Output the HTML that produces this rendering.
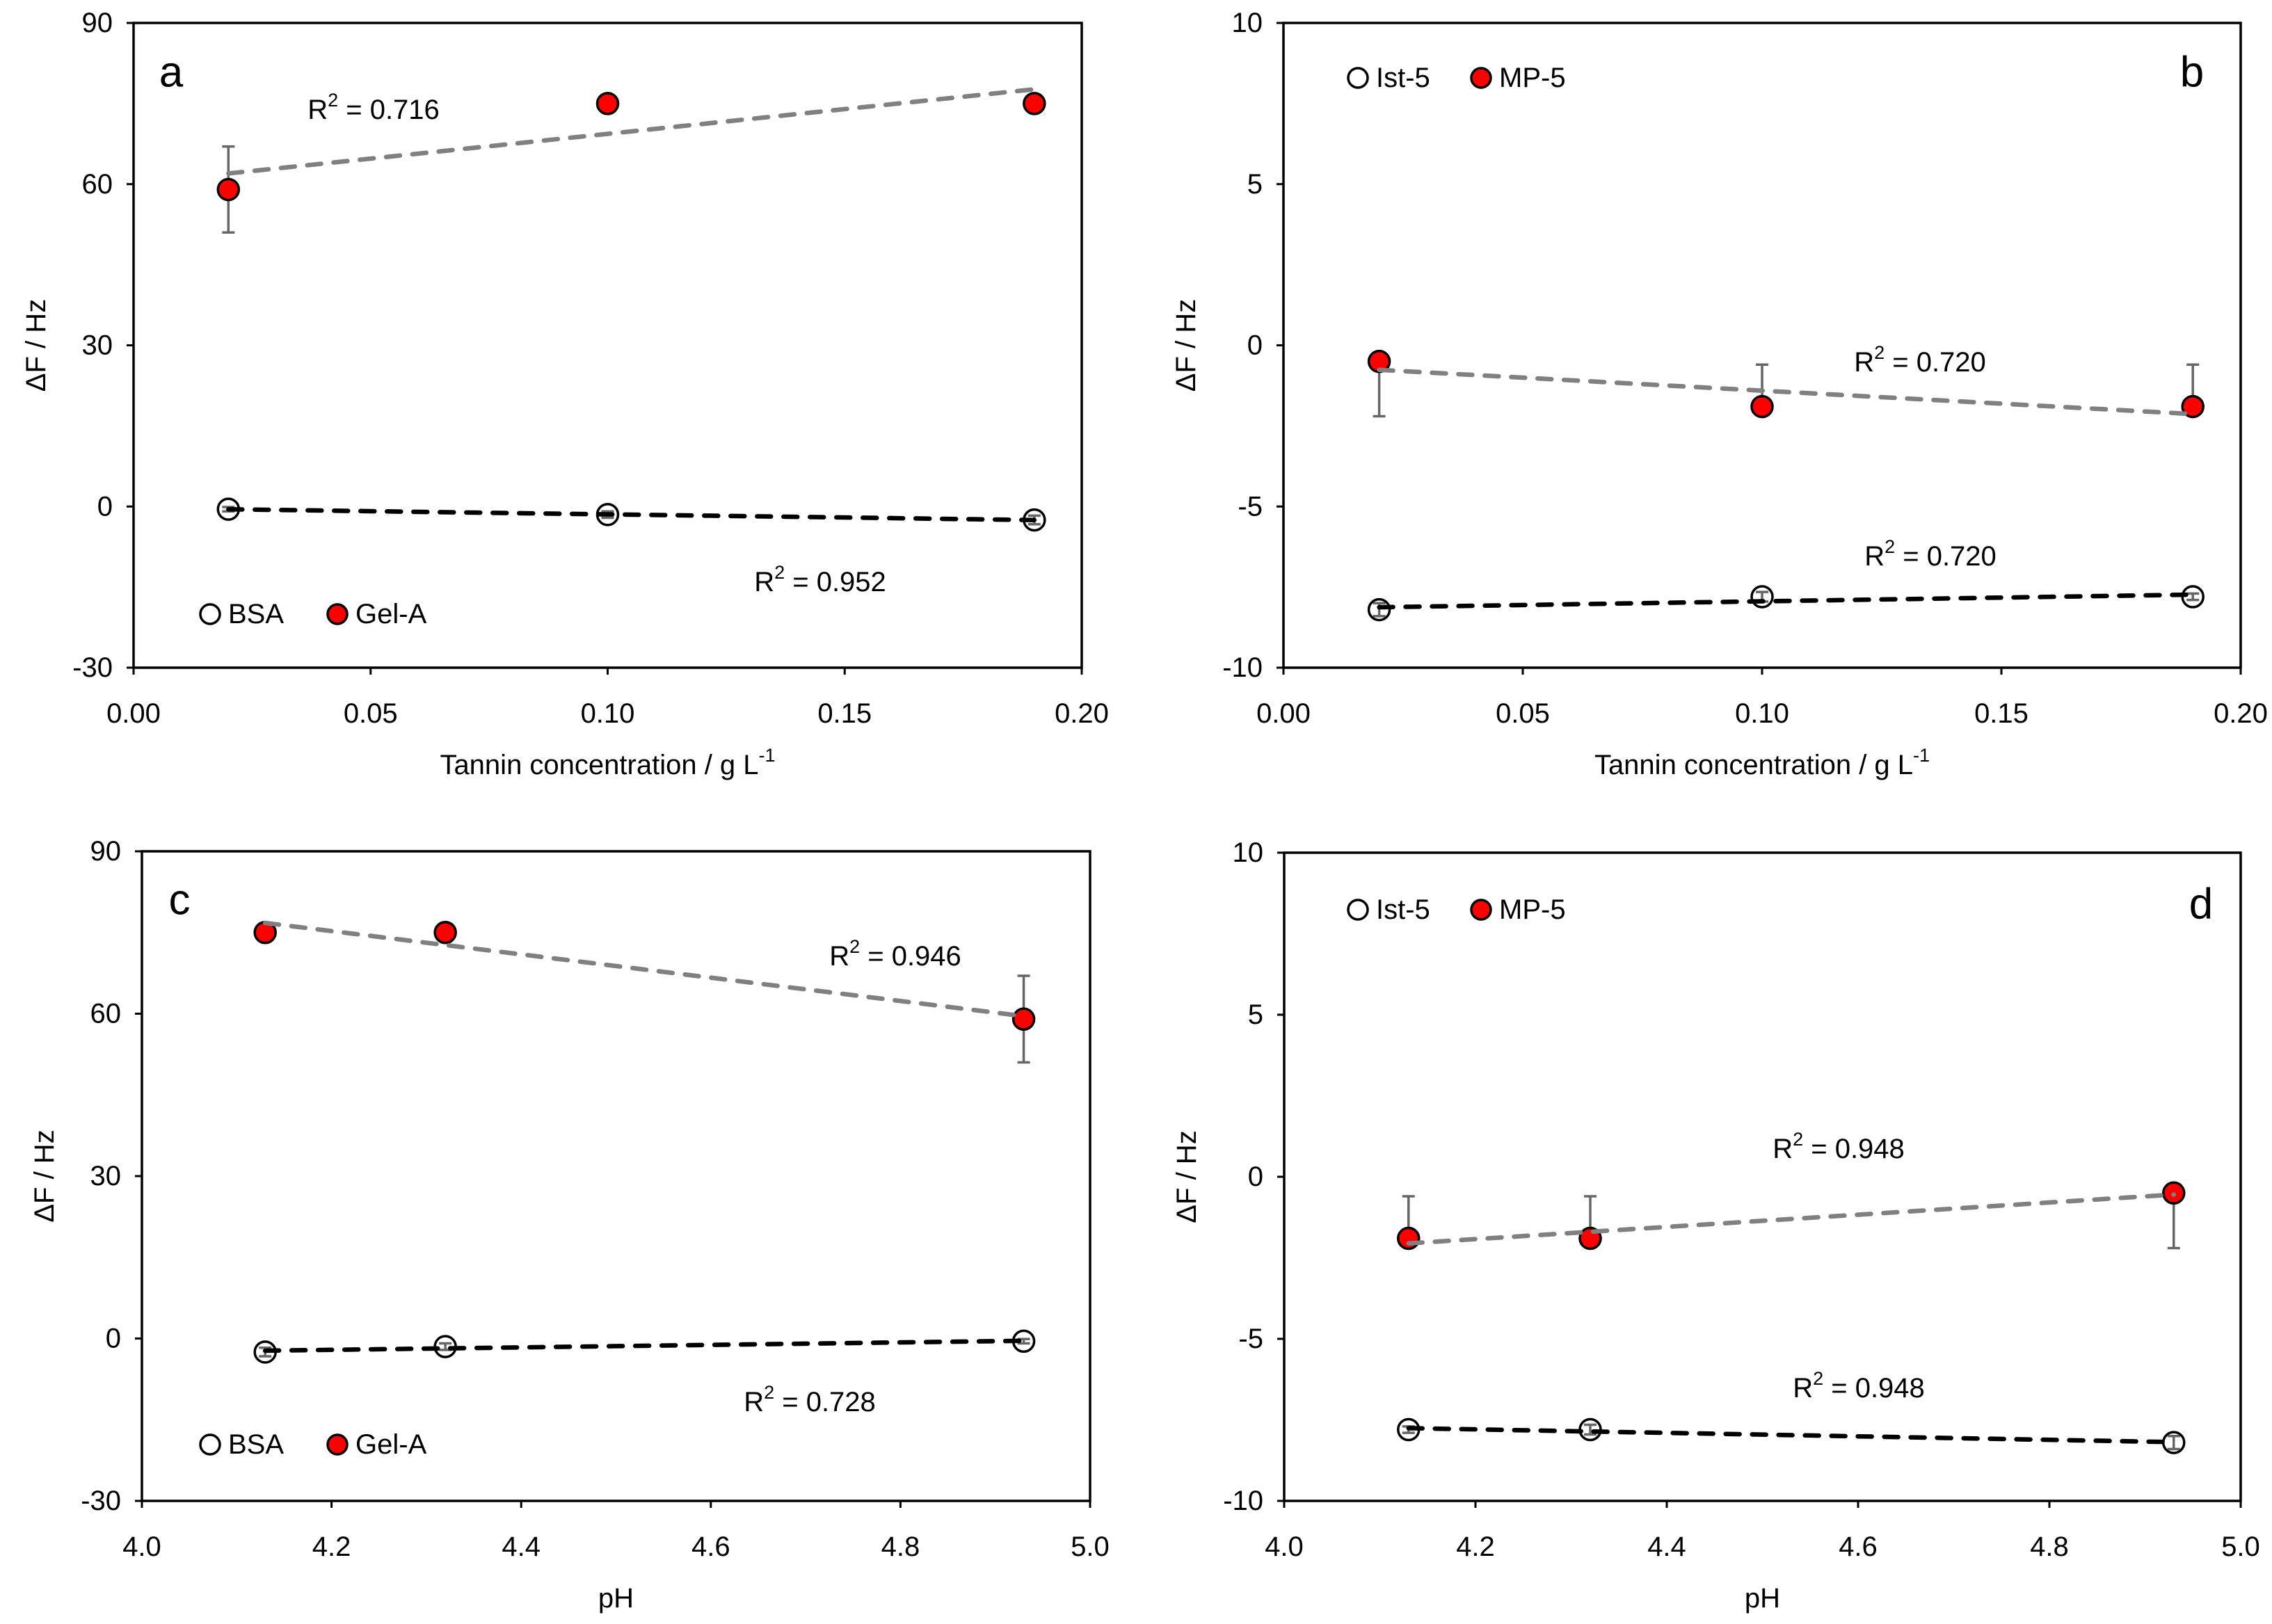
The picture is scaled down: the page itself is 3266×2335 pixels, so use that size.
<!DOCTYPE html>
<html><head><meta charset="utf-8"><style>
html,body{margin:0;padding:0;background:#fff}
svg{display:block}
text{font-family:"Liberation Sans",sans-serif;fill:#000}
</style></head><body>
<svg id="fig" width="3266" height="2335" viewBox="0 0 3266 2335" xmlns="http://www.w3.org/2000/svg"></svg>
<script>
// Panel data
const concX = [0.02, 0.10, 0.19];
const phX = [4.13, 4.32, 4.93];
const aGel = [59, 75, 75];
const aGelLo = [8, 0, 0];
const aGelHi = [8, 0, 0];
const aBsa = [-0.5, -1.5, -2.5];
const aBsaErr = [0.4, 0.6, 0.8];
const bMp = [-0.5, -1.9, -1.9];
const bMpLo = [1.7, 0, 0];
const bMpHi = [0, 1.3, 1.3];
const bIst = [-8.2, -7.8, -7.8];
const bIstErr = [0.2, 0.15, 0.1];
const cGel = [75, 75, 59];
const cGelLo = [0, 0, 8];
const cGelHi = [0, 0, 8];
const cBsa = [-2.5, -1.5, -0.5];
const cBsaErr = [0.8, 0.6, 0.4];
const dMp = [-1.9, -1.9, -0.5];
const dMpLo = [0, 0, 1.7];
const dMpHi = [1.3, 1.3, 0];
const dIst = [-7.8, -7.8, -8.2];
const dIstErr = [0.1, 0.15, 0.2];
const concTicks = ["0.00","0.05","0.10","0.15","0.20"];
const phTicks = ["4.0","4.2","4.4","4.6","4.8","5.0"];
const yTicksBig = ["90","60","30","0","-30"];
const yTicksSmall = ["10","5","0","-5","-10"];

const NS="http://www.w3.org/2000/svg";
const svg=document.getElementById('fig');
function mk(tag,attrs,parent){const e=document.createElementNS(NS,tag);for(const k in attrs)e.setAttribute(k,attrs[k]);(parent||svg).appendChild(e);return e;}
function txt(s,x,y,size,anchor,parent,extra){const t=mk('text',Object.assign({x:x,y:y,'font-size':size,'text-anchor':anchor||'middle','dominant-baseline':'central'},extra||{}),parent);t.textContent=s;return t;}
function fit(xs,ys){const n=xs.length;let mx=0,my=0;for(let i=0;i<n;i++){mx+=xs[i];my+=ys[i];}mx/=n;my/=n;let sxy=0,sxx=0;for(let i=0;i<n;i++){sxy+=(xs[i]-mx)*(ys[i]-my);sxx+=(xs[i]-mx)**2;}const b=sxy/sxx;return [my-b*mx,b];}

function panel(o){
  const g=mk('g',{});
  
  
  const X=v=>o.x0+(v-o.xmin)/(o.xmax-o.xmin)*(o.x1-o.x0);
  const Y=v=>o.y1-(v-o.ymin)/(o.ymax-o.ymin)*(o.y1-o.y0);
  const box=mk('rect',{x:o.x0,y:o.y0,width:o.x1-o.x0,height:o.y1-o.y0,fill:'none',stroke:'#000','stroke-width':3.5},g);
  
  
  const nY=o.yt.length;
  o.yt.forEach((s,i)=>{const v=o.ymax-i*(o.ymax-o.ymin)/(nY-1);const yy=Y(v);
    mk('line',{x1:o.x0-10,x2:o.x0,y1:yy,y2:yy,stroke:'#000','stroke-width':3},g);
    const t=txt(s,o.x0-30,yy,40,'end',g);
    
    });
  const nX=o.xt.length;
  o.xt.forEach((s,i)=>{const v=o.xmin+i*(o.xmax-o.xmin)/(nX-1);const xx=X(v);
    mk('line',{x1:xx,x2:xx,y1:o.y1,y2:o.y1+10,stroke:'#000','stroke-width':3},g);
    const t=txt(s,xx,o.y1+66,40,'middle',g);
    
    });
  const yt=txt('ΔF / Hz',0,0,40,'middle',g,{transform:`translate(${o.x0-140},${(o.y0+o.y1)/2}) rotate(-90)`});
  
  
  let xt;
  if(o.conc){xt=mk('text',{x:(o.x0+o.x1)/2,y:o.y1+140,'font-size':40,'text-anchor':'middle','dominant-baseline':'central'},g);
    xt.innerHTML='Tannin concentration / g L<tspan dy="-14" font-size="27">-1</tspan>';}
  else{xt=txt('pH',(o.x0+o.x1)/2,o.y1+140,40,'middle',g);}
  
  
  const pl=txt(o.id,o.lab[0],o.lab[1],62,'middle',g);
  
  
  function ebars(vals,lo,hi){vals.forEach((v,i)=>{const xx=X(o.xs[i]);
    if(lo[i]>0){mk('line',{x1:xx,x2:xx,y1:Y(v),y2:Y(v-lo[i]),stroke:'#666','stroke-width':3.5},g);mk('line',{x1:xx-9,x2:xx+9,y1:Y(v-lo[i]),y2:Y(v-lo[i]),stroke:'#666','stroke-width':3.5},g);}
    if(hi[i]>0){mk('line',{x1:xx,x2:xx,y1:Y(v),y2:Y(v+hi[i]),stroke:'#666','stroke-width':3.5},g);mk('line',{x1:xx-9,x2:xx+9,y1:Y(v+hi[i]),y2:Y(v+hi[i]),stroke:'#666','stroke-width':3.5},g);}
  });}
  ebars(o.top,o.topLo,o.topHi);
  ebars(o.bot,o.botErr,o.botErr);
  o.top.forEach((v,i)=>{const c=mk('circle',{cx:X(o.xs[i]),cy:Y(v),r:15,fill:'#ff0000',stroke:'#000','stroke-width':3.5},g);
    
    });
  o.bot.forEach((v,i)=>{const c=mk('circle',{cx:X(o.xs[i]),cy:Y(v),r:15,fill:'none',stroke:'#000','stroke-width':3.5},g);
    
    });
  function trend(vals,col,name){const [a,b]=fit(o.xs,vals);const xa=o.xs[0],xb=o.xs[o.xs.length-1];
    const l=mk('line',{x1:X(xa),y1:Y(a+b*xa),x2:X(xb),y2:Y(a+b*xb),stroke:col,'stroke-width':6.5,'stroke-dasharray':'20 18','stroke-linecap':'round'},g);
    
    }
  trend(o.top,'#808080','trendline-'+o.topName);
  trend(o.bot,'#000','trendline-'+o.botName);
  o.r2.forEach(r=>{const t=mk('text',{x:r[1],y:r[2],'font-size':40,'text-anchor':'middle','dominant-baseline':'central'},g);
    t.innerHTML='R<tspan dy="-14" font-size="27">2</tspan><tspan dy="14"> = '+r[0]+'</tspan>';
    
    });
  const L=o.leg;
  const c1=mk('circle',{cx:L[0],cy:L[1],r:14,fill:'none',stroke:'#000','stroke-width':3.5},g);
  
  
  const t1=txt(o.botName,L[0]+26,L[1],40,'start',g);
  
  
  const c2=mk('circle',{cx:L[2],cy:L[1],r:14,fill:'#ff0000',stroke:'#000','stroke-width':3.5},g);
  
  
  const t2=txt(o.topName,L[2]+26,L[1],40,'start',g);
  
  
}

panel({id:'a',x0:192,x1:1555,y0:33,y1:960,xmin:0,xmax:0.2,ymin:-30,ymax:90,xt:concTicks,yt:yTicksBig,conc:true,xs:concX,
  top:aGel,topLo:aGelLo,topHi:aGelHi,bot:aBsa,botErr:aBsaErr,topName:'Gel-A',botName:'BSA',
  lab:[246,104],r2:[['0.716',537,158],['0.952',1179,837]],leg:[302,883,485]});
panel({id:'b',x0:1845,x1:3221,y0:33,y1:960,xmin:0,xmax:0.2,ymin:-10,ymax:10,xt:concTicks,yt:yTicksSmall,conc:true,xs:concX,
  top:bMp,topLo:bMpLo,topHi:bMpHi,bot:bIst,botErr:bIstErr,topName:'MP-5',botName:'Ist-5',
  lab:[3151,104],r2:[['0.720',2760,521],['0.720',2775,800]],leg:[1952,112,2129]});
panel({id:'c',x0:204,x1:1567,y0:1224,y1:2158,xmin:4.0,xmax:5.0,ymin:-30,ymax:90,xt:phTicks,yt:yTicksBig,conc:false,xs:phX,
  top:cGel,topLo:cGelLo,topHi:cGelHi,bot:cBsa,botErr:cBsaErr,topName:'Gel-A',botName:'BSA',
  lab:[258,1294],r2:[['0.946',1287,1375],['0.728',1164,2016]],leg:[302,2077,485]});
panel({id:'d',x0:1846,x1:3221,y0:1226,y1:2158,xmin:4.0,xmax:5.0,ymin:-10,ymax:10,xt:phTicks,yt:yTicksSmall,conc:false,xs:phX,
  top:dMp,topLo:dMpLo,topHi:dMpHi,bot:dIst,botErr:dIstErr,topName:'MP-5',botName:'Ist-5',
  lab:[3164,1300],r2:[['0.948',2643,1652],['0.948',2672,1996]],leg:[1952,1308,2129]});
</script>
</body></html>
